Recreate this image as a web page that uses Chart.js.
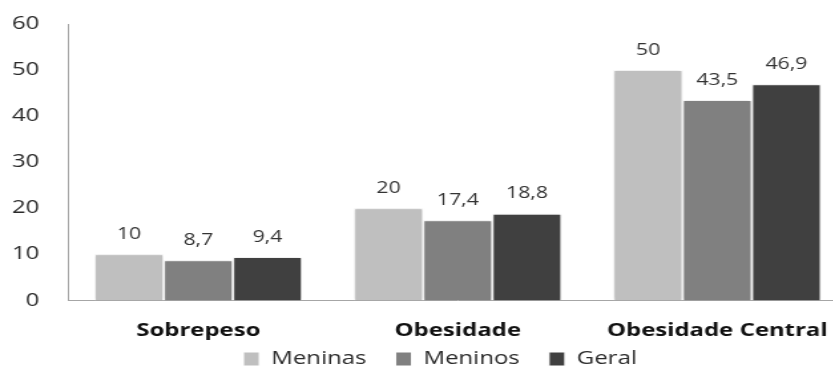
<!DOCTYPE html>
<html>
<head>
<meta charset="utf-8">
<script src="https://cdn.jsdelivr.net/npm/chart.js@4/dist/chart.umd.min.js"></script>
<style>
    html, body { margin: 0; padding: 0; background: #fff; overflow: hidden; }
    #myChart { display: block; }
</style>
</head>
<body>
<!-- the reference is stretched sideways: draw 637 wide, show it 847 wide -->
<canvas id="myChart" width="637" height="382" style="width:847px;height:382px"></canvas>
<script>
// --- DATA ---
const categories = ['Sobrepeso', 'Obesidade', 'Obesidade Central'];
const meninas = [10, 20, 50];
const meninos = [8.7, 17.4, 43.5];
const geral = [9.4, 18.8, 46.9];
const yTicks = [0, 10, 20, 30, 40, 50, 60];

const FONT = "'Open Sans', 'DejaVu Sans', sans-serif";
const LEGEND_TRIM = 16;

// faint halo round the bars
const barShadow = {
    id: 'barShadow',
    beforeDatasetsDraw(chart) {
        const ctx = chart.ctx;
        ctx.save();
        ctx.shadowColor = 'rgba(0,0,0,0.22)';
        ctx.shadowBlur = 3;
    },
    afterDatasetsDraw(chart) {
        chart.ctx.restore();
    }
};

// value labels above each bar, with a decimal comma
const barLabels = {
    id: 'barLabels',
    afterDatasetsDraw(chart) {
        const ctx = chart.ctx;
        ctx.save();
        ctx.font = `16px ${FONT}`;
        ctx.fillStyle = '#333';
        ctx.textAlign = 'center';
        ctx.textBaseline = 'middle';
        chart.data.datasets.forEach((ds, i) => {
            chart.getDatasetMeta(i).data.forEach((bar, j) => {
                const txt = String(ds.data[j]).replace('.', ',');
                ctx.fillText(txt, bar.x, bar.y - 20);
            });
        });
        ctx.restore();
    }
};

// legend sits close under the axis labels, a bit right of centre
const legendTweak = {
    id: 'legendTweak',
    beforeLayout(chart) {
        const leg = chart.legend;
        if (leg && !leg._trimmed) {
            const fit = leg.fit.bind(leg);
            leg.fit = function () { fit(); this.height -= LEGEND_TRIM; };
            leg._trimmed = true;
        }
    },
    afterLayout(chart) {
        const leg = chart.legend;
        leg.top -= LEGEND_TRIM;
        leg.left += 8;
        leg.right += 8;
    }
};

const ctx = document.getElementById('myChart').getContext('2d');
new Chart(ctx, {
    type: 'bar',
    data: {
        labels: categories,
        datasets: [
            { label: 'Meninas', data: meninas, backgroundColor: '#bfbfbf' },
            { label: 'Meninos', data: meninos, backgroundColor: '#808080' },
            { label: 'Geral', data: geral, backgroundColor: '#404040' }
        ].map(d => ({ ...d, borderColor: '#fff', borderWidth: 1, categoryPercentage: 0.8, barPercentage: 1.0 }))
    },
    options: {
        responsive: false,
        animation: false,
        devicePixelRatio: 1,
        layout: { padding: { top: 24, left: 9, right: 0, bottom: 4 } },
        scales: {
            x: {
                grid: { display: false, drawTicks: true, tickLength: 18 },
                border: { color: '#a6a6a6', width: 1 },
                ticks: { color: '#111', padding: 2, font: { family: FONT, size: 18, weight: 'bold' } }
            },
            y: {
                min: 0,
                max: 60,
                afterBuildTicks: axis => { axis.ticks = yTicks.map(v => ({ value: v })); },
                grid: { display: false, drawTicks: true, tickLength: 22 },
                border: { color: '#a6a6a6', width: 1 },
                ticks: { color: '#2a2a2a', padding: 0, font: { family: FONT, size: 18 } }
            }
        },
        plugins: {
            tooltip: { enabled: false },
            legend: {
                position: 'bottom',
                labels: {
                    color: '#2a2a2a',
                    boxWidth: 12,
                    boxHeight: 14,
                    padding: 22,
                    font: { family: FONT, size: 18 }
                }
            }
        }
    },
    plugins: [barShadow, barLabels, legendTweak]
});
</script>
</body>
</html>
